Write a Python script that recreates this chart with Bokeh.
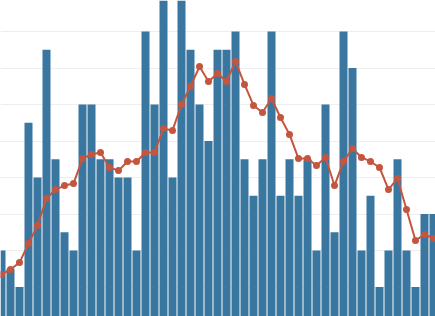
from bokeh.plotting import figure
from bokeh.models import Range1d, FixedTicker, ColumnDataSource
from bokeh.embed import file_html
from bokeh.resources import INLINE

index = list(range(1, 50))
bar_values = [4, 3, 2, 11, 8, 15, 9, 5, 4, 12,
              12, 9, 9, 8, 8, 4, 16, 12, 19, 8,
              18, 15, 12, 10, 15, 15, 16, 9, 7, 9,
              16, 7, 9, 7, 9, 4, 12, 5, 16, 14,
              4, 7, 2, 4, 9, 4, 2, 6, 6]
line_values = [2.68, 2.96, 3.34, 4.38, 5.37, 6.85, 7.34, 7.56, 7.67, 9.04,
               9.26, 9.37, 8.55, 8.38, 8.88, 8.88, 9.37, 9.37, 10.68, 10.58,
               12.0, 12.99, 14.08, 13.26, 13.70, 13.26, 14.36, 13.10, 11.95, 11.56,
               12.33, 11.29, 10.36, 9.04, 9.04, 8.66, 9.10, 7.56, 8.88, 9.59,
               9.10, 8.88, 8.55, 7.34, 7.95, 6.25, 4.55, 4.88, 4.66]
grid_ticks = [0, 2, 4, 6, 8, 10, 12, 14, 16, 18]

src = ColumnDataSource(dict(x=index, bar=bar_values, line=line_values))

p = figure(width=435, height=316, output_backend="svg", toolbar_location=None,
           x_range=Range1d(0.889, 49.222), y_range=Range1d(0.384, 17.70),
           min_border=0)
p.min_border_left = 0
p.min_border_right = 0
p.min_border_top = 0
p.min_border_bottom = 0
p.outline_line_color = None
p.background_fill_color = "white"
p.border_fill_color = "white"

p.vbar(x="x", top="bar", bottom=0, width=0.89, source=src,
       fill_color="#3a77a0", line_color=None)
p.line(x="x", y="line", source=src, line_color="#c4553f", line_width=2)
p.scatter(x="x", y="line", source=src, size=7, fill_color="#c4553f",
          line_color=None)

p.xaxis.visible = False
p.yaxis.visible = False
p.yaxis.ticker = FixedTicker(ticks=grid_ticks)
p.xgrid.visible = False
p.ygrid.grid_line_color = "#eeeeee"
p.ygrid.grid_line_width = 1
p.ygrid.level = "underlay"

open("out.html", "w").write(file_html(p, INLINE))
